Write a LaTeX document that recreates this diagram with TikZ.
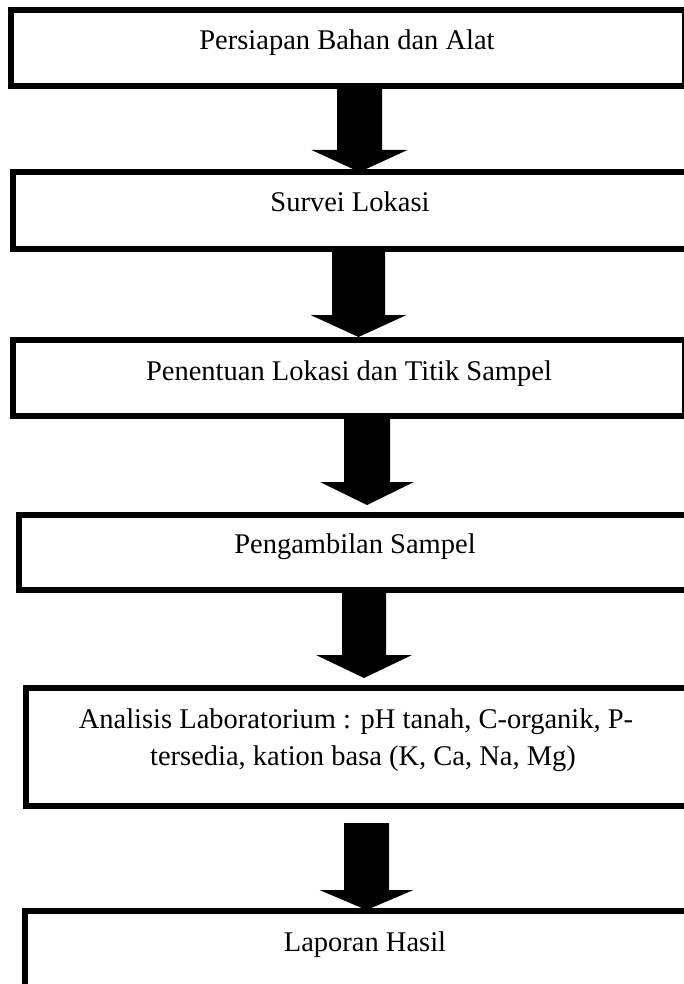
\documentclass[tikz,border=0pt]{standalone}
\usepackage{fontspec}
\setmainfont{Liberation Serif}
\newcommand\blockarr[6]{% x, ytop, ybase, ytip, shaft half, head half
  \fill[black] (#1-#5,#2) -- (#1+#5,#2) -- (#1+#5,#3) -- (#1+#6,#3) -- (#1,#4) -- (#1-#6,#3) -- (#1-#5,#3) -- cycle;}
\begin{document}
\begin{tikzpicture}[x=1pt,y=-1pt,
  stepbox/.style={draw=black,line width=6pt,fill=white,inner sep=0pt,rectangle},
  lbl/.style={inner sep=0pt,anchor=base,font=\fontsize{28.5}{34}\selectfont}]
\useasboundingbox (0,0) rectangle (684,984);
\clip (0,0) rectangle (684,984);
\fill[white] (0,0) rectangle (684,984);
% boxes
\node[stepbox,minimum width=674pt,minimum height=76pt] (b1) at (348,48) {};
\node[stepbox,minimum width=674pt,minimum height=77pt] (b2) at (350,210.5) {};
\node[stepbox,minimum width=671.5pt,minimum height=76pt] (b3) at (349,378) {};
\node[stepbox,minimum width=672pt,minimum height=75pt] (b4) at (355,552.5) {};
\node[stepbox,minimum width=664pt,minimum height=118pt] (b5) at (358,747) {};
\node[stepbox,minimum width=680pt,minimum height=86pt] (b6) at (365,954) {};
% texts
\node[lbl] (t1) at (347,50) {Persiapan Bahan dan Alat};
\node[lbl] (t2) at (350,212) {Survei Lokasi};
\node[lbl] (t3) at (349,380) {Penentuan Lokasi dan Titik Sampel};
\node[lbl] (t4) at (355,553) {Pengambilan Sampel};
\node[lbl] (t5a) at (356,728) {Analisis Laboratorium : pH tanah, C-organik, P-};
\node[lbl] (t5b) at (363,765) {tersedia, kation basa (K, Ca, Na, Mg)};
\node[lbl] (t6) at (365,951) {Laporan Hasil};
% block arrows
\blockarr{359.5}{89}{150}{172}{22.5}{48}
\blockarr{358.5}{252}{315}{337}{26.5}{48}
\blockarr{367}{419}{482}{505}{23}{47}
\blockarr{364}{593}{655}{678}{22}{48}
\blockarr{366.5}{823}{890}{910}{22.5}{47}
\end{tikzpicture}
\end{document}
